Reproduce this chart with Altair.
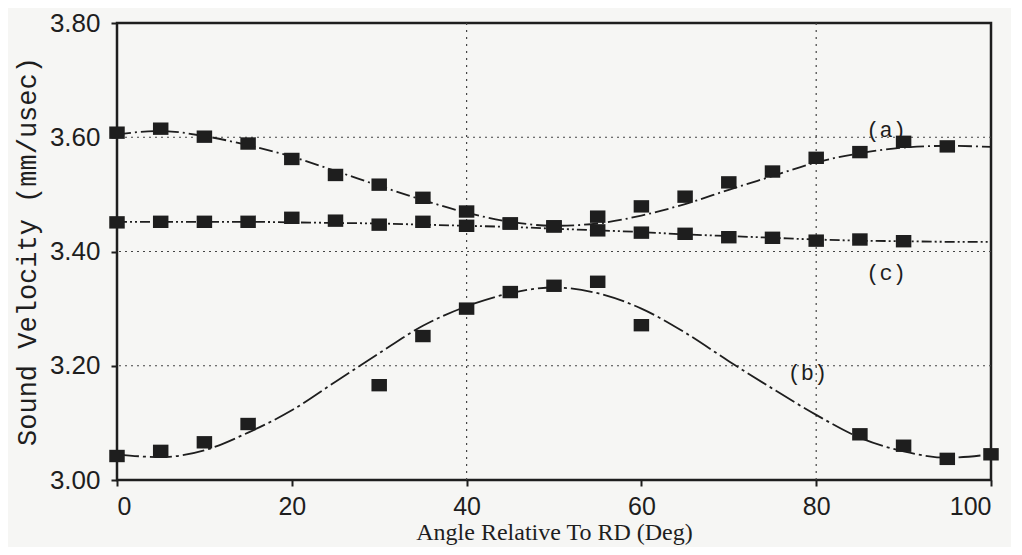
import altair as alt
import pandas as pd

# measured points (angle in deg, velocity in mm/usec)
a_x = [0, 5, 10, 15, 20, 25, 30, 35, 40, 45, 50, 55, 60, 65, 70, 75, 80, 85, 90, 95]
a_vals = [3.608, 3.615, 3.601, 3.589, 3.562, 3.534, 3.517, 3.494, 3.470, 3.449,
          3.444, 3.461, 3.479, 3.496, 3.521, 3.540, 3.564, 3.574, 3.592, 3.584]

c_x = [0, 5, 10, 15, 20, 25, 30, 35, 40, 45, 50, 55, 60, 65, 70, 75, 80, 85, 90]
c_vals = [3.451, 3.452, 3.452, 3.452, 3.459, 3.454, 3.447, 3.452, 3.445, 3.449,
          3.444, 3.437, 3.433, 3.431, 3.425, 3.424, 3.419, 3.421, 3.418]

b_x = [0, 5, 10, 15, 30, 35, 40, 45, 50, 55, 60, 85, 90, 95, 100]
b_vals = [3.042, 3.051, 3.066, 3.098, 3.166, 3.252, 3.300, 3.329, 3.340, 3.347,
          3.271, 3.080, 3.060, 3.037, 3.045]

# fitted curves
fit_x = [0, 5, 10, 15, 20, 25, 30, 35, 40, 45, 50, 55, 60, 65, 70, 75, 80, 85, 90, 95, 100]
fit_a = [3.605, 3.611, 3.602, 3.586, 3.566, 3.541, 3.515, 3.490, 3.468, 3.452, 3.445,
         3.449, 3.463, 3.483, 3.508, 3.532, 3.556, 3.572, 3.582, 3.585, 3.583]
fit_b = [3.045, 3.040, 3.052, 3.083, 3.122, 3.172, 3.222, 3.270, 3.304, 3.327, 3.337,
         3.327, 3.300, 3.258, 3.208, 3.160, 3.114, 3.074, 3.050, 3.039, 3.045]
fit_c = [3.452, 3.452, 3.452, 3.452, 3.451, 3.450, 3.449, 3.447, 3.445, 3.443, 3.440,
         3.437, 3.434, 3.430, 3.427, 3.424, 3.421, 3.419, 3.418, 3.417, 3.417]

lab_text = ["(a)", "(b)", "(c)"]
lab_x = [88, 79, 88]
lab_y = [3.613, 3.187, 3.363]

grid_x = [40, 80]
grid_y = [3.2, 3.4, 3.6]

x_ticks = [0, 20, 40, 60, 80, 100]
y_ticks = [3.0, 3.2, 3.4, 3.6, 3.8]

INK = "#1e1e1e"

xs = alt.Scale(domain=[0, 100], nice=False, zero=False)
ys = alt.Scale(domain=[3.0, 3.8], nice=False, zero=False)

x_axis = alt.Axis(values=x_ticks, format="d", labelFont="Liberation Sans", labelFontSize=25,
                  labelColor=INK, tickColor=INK, tickSize=6, tickWidth=2, labelPadding=8,
                  domain=False, grid=False, title="Angle Relative To RD (Deg)",
                  titleFont="Liberation Serif", titleFontSize=24, titleFontWeight="normal",
                  titleColor=INK, titleX=437, titleY=52, titleBaseline="middle",
                  titleAlign="center")
y_axis = alt.Axis(values=y_ticks, format=".2f", labelFont="Liberation Sans", labelFontSize=26,
                  labelColor=INK, tickColor=INK, tickSize=6, tickWidth=2, labelPadding=11,
                  domain=False, grid=False, title="Sound Velocity (mm/usec)",
                  titleFont="Liberation Mono", titleFontSize=27, titleFontWeight="normal",
                  titleColor=INK, titleX=-90, titleY=228, titleAngle=270,
                  titleBaseline="middle", titleAlign="center")

df_gx = pd.DataFrame({"x": grid_x})
df_gy = pd.DataFrame({"y": grid_y})

gv = alt.Chart(df_gx).mark_rule(color="#444", strokeWidth=1.2, strokeDash=[2, 5]).encode(
    x=alt.X("x:Q", scale=xs, axis=x_axis))
gh = alt.Chart(df_gy).mark_rule(color="#444", strokeWidth=1.2, strokeDash=[2, 4]).encode(
    y=alt.Y("y:Q", scale=ys, axis=y_axis))

def fit_line(vals, dash):
    df = pd.DataFrame({"x": fit_x, "y": vals})
    return alt.Chart(df).mark_line(color=INK, strokeWidth=1.8, strokeDash=dash,
                                   interpolate="monotone").encode(
        x=alt.X("x:Q", scale=xs), y=alt.Y("y:Q", scale=ys))

la = fit_line(fit_a, [14, 4, 2, 4])
lb = fit_line(fit_b, [22, 4, 3, 4])
lc = fit_line(fit_c, [10, 3, 2, 3, 2, 3])

square = "M-1,-0.8 L1,-0.8 L1,0.8 L-1,0.8 Z"

def pts(xv, yv):
    df = pd.DataFrame({"x": xv, "y": yv})
    return alt.Chart(df).mark_point(shape=square, filled=True, size=240, color=INK,
                                    opacity=1).encode(
        x=alt.X("x:Q", scale=xs), y=alt.Y("y:Q", scale=ys))

pa = pts(a_x, a_vals)
pb = pts(b_x, b_vals)
pc = pts(c_x, c_vals)

df_lab = pd.DataFrame({"x": lab_x, "y": lab_y, "t": lab_text})
labels = alt.Chart(df_lab).mark_text(font="Liberation Mono", fontSize=22, color=INK,
                                     align="center", baseline="middle").encode(
    x=alt.X("x:Q", scale=xs), y=alt.Y("y:Q", scale=ys), text="t:N")

chart = alt.layer(gv, gh, lc, la, lb, pc, pa, pb, labels).properties(
    width=874, height=457,
    autosize=alt.AutoSizeParams(type="none"),
    padding={"left": 109, "top": 15, "right": 20, "bottom": 67},
    background="#f6f6f4",
).configure_view(stroke=INK, strokeWidth=2.5)

chart.save("out.html", embed_options={"renderer": "svg", "actions": False})
